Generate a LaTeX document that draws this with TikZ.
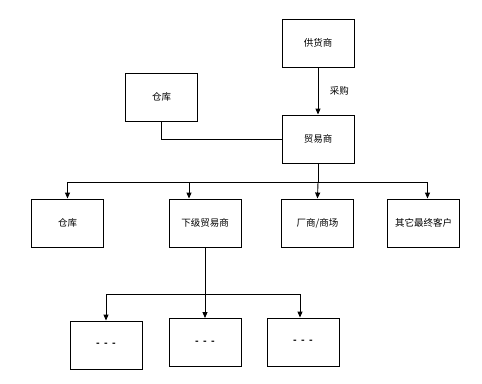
\documentclass[tikz,border=0pt]{standalone}
\usepackage{fontspec}
\setmainfont{Noto Sans CJK SC}
\usetikzlibrary{arrows.meta,positioning}

\begin{document}
\begin{tikzpicture}[x=1pt,y=-1pt,font=\fontsize{9.5}{11}\selectfont,>={Triangle[length=6pt,width=5pt]},line width=0.9pt,
  b/.style={draw,minimum width=72pt,minimum height=48pt,inner sep=0pt}]
\useasboundingbox (0,0) rectangle (482,383);
\node[b] (sup) at (318,43) {供货商};
\node[b] (trd) at (318,139) {贸易商};
\node[b] (wh) at (161.5,97) {仓库};
\draw[->] (sup)--node[right=8pt]{采购}(trd);
\draw (wh.south)|-(trd.west);
% second row
\node[b] (wh2) at (67.5,223) {仓库};
\node[b] (sub) at (205,223) {下级贸易商};
\node[b] (mall) at (317.5,223) {厂商/商场};
\node[b] (oth) at (423.5,223) {其它最终客户};
\coordinate (j1) at (318,182);
\draw (trd.south)--(j1);
\draw[->] (j1)-|(wh2.north);
\draw[->] (j1)-|([xshift=-16pt]sub.north);
\draw[->] (j1)--(mall.north);
\draw[->] (j1)-|([xshift=4pt]oth.north);
% third row
\node[b] (d1) at (106,345) {\textbf{-\ \ -\ \ -}};
\node[b] (d2) at (205,342.5) {\textbf{-\ \ -\ \ -}};
\node[b] (d3) at (303,342) {\textbf{-\ \ -\ \ -}};
\coordinate (j2) at (205,294);
\draw (sub.south)--(j2);
\draw[->] (j2)-|(d1.north);
\draw[->] (j2)--(d2.north);
\draw[->] (j2)-|([xshift=-3pt]d3.north);
\end{tikzpicture}
\end{document}
